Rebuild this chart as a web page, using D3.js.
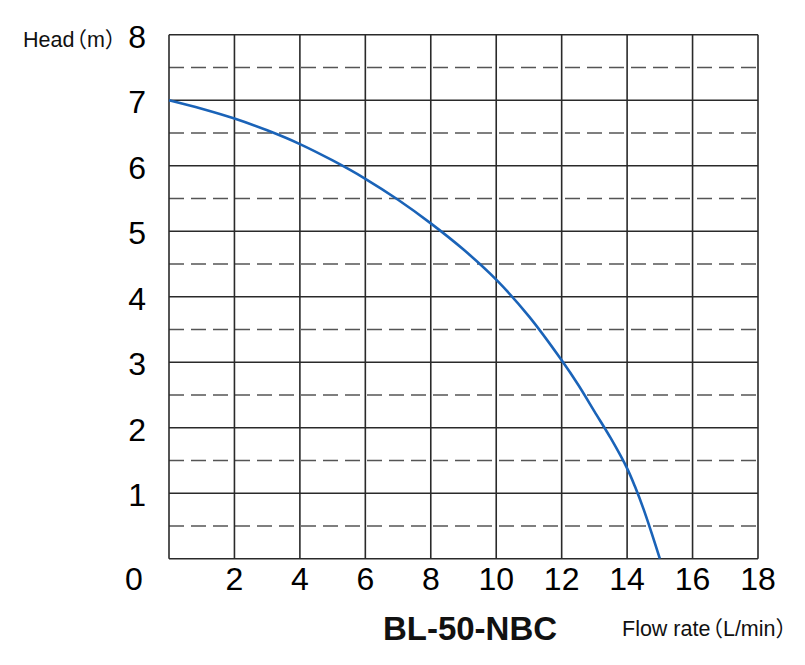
<!DOCTYPE html>
<html><head><meta charset="utf-8">
<script src="https://cdn.jsdelivr.net/npm/d3@7"></script>
<style>body{margin:0;background:#fff}svg{display:block}</style>
</head><body>
<script>
const flow = [0,1,2,3,4,5,6,7,8,9,10,11,12,12.5,13,13.5,14,14.25,14.5,14.75,15];
const head = [7,6.87,6.72,6.54,6.33,6.08,5.80,5.48,5.12,4.72,4.26,3.70,3.03,2.66,2.25,1.84,1.38,1.09,0.76,0.39,0];
const xTicks = [2,4,6,8,10,12,14,16,18];
const yTicks = [1,2,3,4,5,6,7,8];
const title = "BL-50-NBC";
const xLabelParts = ["Flow rate","（","L/min","）"];
const yLabelParts = ["Head","（","m","）"];

const W=805,H=665;
const svg=d3.select("body").append("svg").attr("width",W).attr("height",H);
const x=d3.scaleLinear().domain([0,18]).range([169,758]);
const y=d3.scaleLinear().domain([0,8]).range([558.7,34.7]);
const g=svg.append("g");
g.selectAll(".dash").data(d3.range(0.5,8,1)).join("line")
 .attr("x1",x(0)).attr("x2",x(18)).attr("y1",d=>y(d)).attr("y2",d=>y(d))
 .attr("stroke","#555").attr("stroke-width",1.5).attr("stroke-dasharray","15,7");
g.selectAll(".h").data(d3.range(0,9,1)).join("line")
 .attr("x1",x(0)).attr("x2",x(18)).attr("y1",d=>y(d)).attr("y2",d=>y(d))
 .attr("stroke","#2a2a2a").attr("stroke-width",1.6);
g.selectAll(".v").data(d3.range(0,19,2)).join("line")
 .attr("x1",d=>x(d)).attr("x2",d=>x(d)).attr("y1",y(0)).attr("y2",y(8))
 .attr("stroke","#2a2a2a").attr("stroke-width",1.6);
const line=d3.line().x((d,i)=>x(flow[i])).y(d=>y(d)).curve(d3.curveCatmullRom.alpha(0.5));
svg.append("path").datum(head).attr("d",line).attr("fill","none")
 .attr("stroke","#1a63b8").attr("stroke-width",2.6);
const ff="'Liberation Sans', Arial, sans-serif";
const cjk="'Noto Sans CJK JP', sans-serif";
svg.selectAll(".yt").data(yTicks).join("text").attr("x",146).attr("y",d=>y(d)+13)
 .attr("text-anchor","end").attr("font-family",ff).attr("font-size",32).attr("fill","#000").text(d=>d);
svg.selectAll(".xt").data(xTicks).join("text").attr("x",d=>x(d)).attr("y",590)
 .attr("text-anchor","middle").attr("font-family",ff).attr("font-size",32).attr("fill","#000").text(d=>d);
svg.append("text").attr("x",134).attr("y",590).attr("text-anchor","middle").attr("font-family",ff)
 .attr("font-size",32).attr("fill","#000").text("0");
function label(parts,x0,y0){
  const t=svg.append("text").attr("x",x0).attr("y",y0).attr("font-family",ff).attr("font-size",21.5).attr("fill","#111");
  t.append("tspan").text(parts[0]);
  t.append("tspan").attr("font-family",cjk).attr("dx",-9).text(parts[1]);
  t.append("tspan").text(parts[2]);
  t.append("tspan").attr("font-family",cjk).text(parts[3]);
}
label(yLabelParts,23,47);
label(xLabelParts,622,636);
svg.append("text").attr("x",470).attr("y",640).attr("text-anchor","middle").attr("font-family",ff)
 .attr("font-size",33).attr("font-weight","bold").attr("fill","#111").text(title);
</script>
</body></html>
